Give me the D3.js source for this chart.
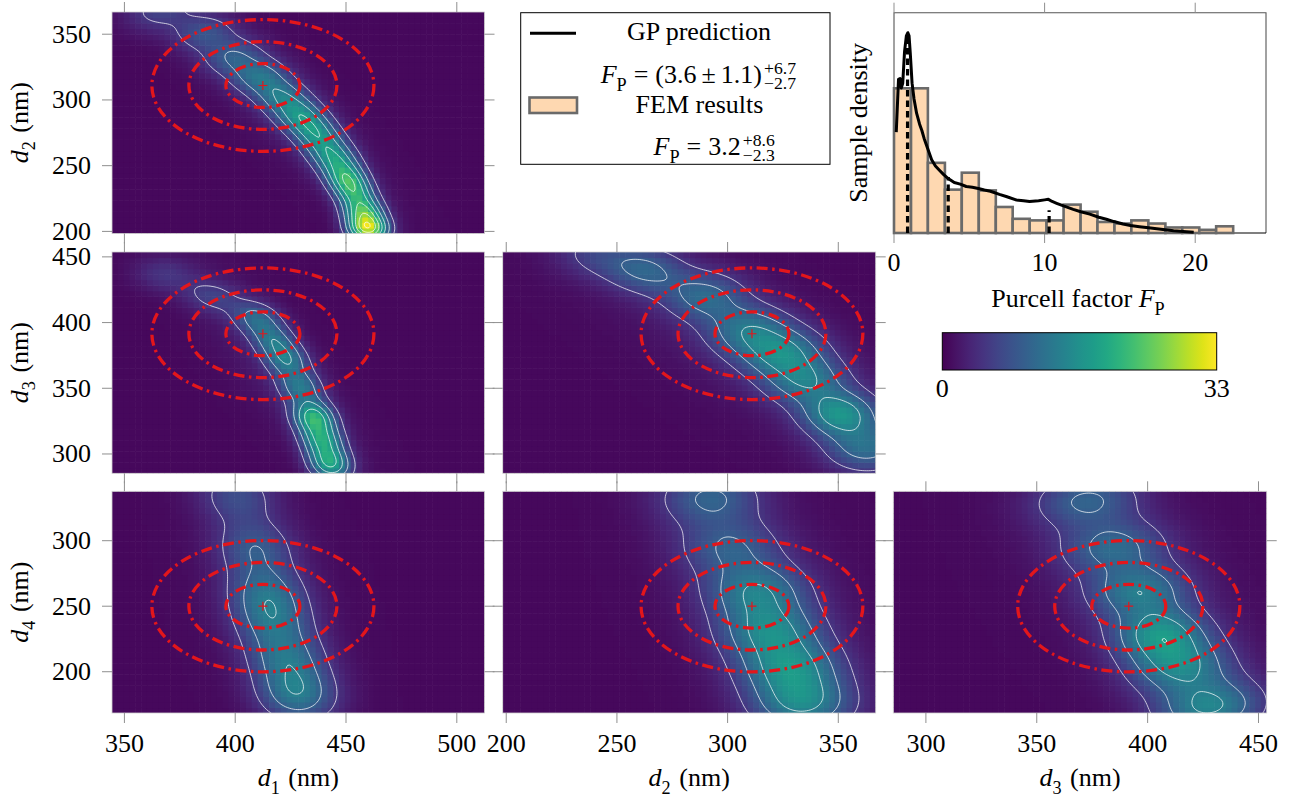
<!DOCTYPE html>
<html>
<head>
<meta charset="utf-8">
<title>Posterior corner plot</title>
<script src="https://cdn.jsdelivr.net/npm/d3@7"></script>
<style>
  html, body { margin: 0; padding: 0; background: #fff; }
  svg, svg text {
    font-family: "Liberation Serif", "DejaVu Serif", "Noto Serif", "Times New Roman", Times,
                 Tinos, FreeSerif, "Nimbus Roman", "Nimbus Roman No9 L", serif;
  }
</style>
</head>
<body>
<svg id="fig" width="1295" height="798"></svg>
<script>
// ---------------- data ----------------
const paramLabels  = ["1", "2", "3", "4"];          // subscripts of d_i
const paramDomains = [[344.4, 512.5], [198.4, 366.9], [285.3, 453.7], [168.5, 337.7]];
const paramTicks   = [[350, 400, 450, 500], [200, 250, 300, 350], [300, 350, 400, 450], [200, 250, 300]];
const priorMean    = [412.5, 311, 391.5, 250];
const priorSigma   = [16.7, 16.7, 16.7, 16.7];
const sigmaMultiples = [1, 2, 3];

const colorbarTicks = [0, 33];
const contourLevels = [4.5, 9, 13.5, 18, 22.5, 27, 31.5];
const densityFloor = 0.7;

// Sample-density components per pair of parameters:
// [centre x, centre y, peak, sd along ridge, sd across ridge, ridge direction (deg)]
const ridgeD1D2 = [
  [425, 290, 1.7, 60, 14, -62],
  [366, 368, 5.5, 10, 12, -45],
  [386, 351, 6.7, 9, 10, -52],
  [399, 333, 7.4, 9, 10, -52],
  [411, 318, 9.4, 9, 9, -56],
  [421, 303, 9.4, 9, 8, -60],
  [429, 289, 11.4, 9, 7.5, -63],
  [436, 276, 11.4, 9, 7, -65],
  [442, 262, 10, 9, 7, -68],
  [447, 250, 11.4, 9, 6.5, -72],
  [451, 238, 14.5, 8, 6, -74],
  [455, 226, 13.2, 8, 6, -75],
  [458, 214, 16.2, 7, 6, -77],
  [460, 202, 27, 7, 6, -80]
];
const ridgeD1D3 = [
  [418, 365, 1.5, 60, 14, -66],
  [368, 437, 4, 10, 9, -30],
  [390, 420, 5, 10, 8, -40],
  [409.8, 403.3, 9.2, 9, 7, -62],
  [417.3, 386.8, 9.2, 9, 6.5, -68],
  [423.3, 371.5, 10.6, 9, 6.5, -72],
  [429.4, 351.1, 10.6, 9, 6.5, -74],
  [435.4, 328.2, 18.5, 9, 6.3, -76],
  [439.2, 310.4, 15, 9, 6.3, -78],
  [442.9, 292.6, 17, 9, 6.3, -78]
];
const ridgeD2D3 = [
  [312, 378, 1.5, 90, 26, -50],
  [240, 452, 4.6, 13, 12, -30],
  [263, 440, 8.4, 13, 12, -40],
  [290, 420, 9.1, 13, 13, -44],
  [310, 394, 10.6, 13, 13.5, -50],
  [325, 376.6, 11.4, 12, 13.5, -55],
  [335.5, 356, 10.6, 12, 13, -58],
  [350.6, 331, 14.3, 12, 12, -58],
  [362.7, 305, 9.9, 13, 13, -58]
];
const ridgeD1D4 = [
  [416, 255, 0.5, 90, 25, -80],
  [401, 334, 6.5, 15, 12, -80],
  [409, 295, 7.7, 15, 12, -81],
  [414, 262, 8.7, 15, 12, -80],
  [417, 239, 8.7, 15, 12, -78],
  [423, 211, 9.4, 15, 12, -78],
  [428, 183, 11.6, 15, 12, -80]
];
const ridgeD2D4 = [
  [315, 255, 1.1, 90, 30, -76],
  [292, 333, 8.8, 15, 16, -72],
  [300.9, 295.3, 7.8, 15, 16, -74],
  [313, 262, 11.3, 15, 16, -76],
  [319, 231.7, 12, 15, 16, -76],
  [328, 203.7, 12.8, 15, 16, -75],
  [334, 175.7, 12.8, 15, 16, -75]
];
const ridgeD3D4 = [
  [398, 255, 1.1, 90, 32, -68],
  [372.5, 331, 8.8, 14, 17, -68],
  [384.5, 295.3, 9.2, 14, 17, -70],
  [396, 262, 11.3, 14, 16, -70],
  [405.6, 229, 14.1, 14, 15, -70],
  [414.6, 203.7, 12, 14, 16, -68],
  [428, 173, 13.1, 14, 17, -65]
];

// Purcell factor: FEM histogram and GP prediction
const femBinEdges = [0, 1.13, 2.25, 3.38, 4.5, 5.63, 6.76, 7.88, 9.01, 10.13, 11.26,
                     12.39, 13.51, 14.64, 15.76, 16.89, 18.02, 19.14, 20.27, 21.39, 22.52];
const femDensity  = [0.1835, 0.1835, 0.089, 0.055, 0.0765, 0.054, 0.033, 0.018, 0.016, 0.016,
                     0.036, 0.027, 0.014, 0.012, 0.016, 0.012, 0.007, 0.007, 0.004, 0.0085];
const gpFactor  = [0.15, 0.3, 0.4, 0.48, 0.58, 0.7, 0.82, 0.92, 1.0, 1.08, 1.2, 1.33, 1.5, 1.7, 1.85,
                   2.0, 2.2, 2.5, 2.75, 3.0, 3.3, 3.6, 4.0, 4.4, 4.8, 5.2, 5.6, 6.0, 6.4, 7.0, 7.5,
                   8.1, 8.6, 9.0, 9.6, 10.0, 10.25, 10.5, 10.8, 11.3, 11.9, 12.4, 13.0, 13.6, 14.1,
                   14.6, 15.2, 15.7, 16.3, 16.9, 17.45, 18.0, 18.56, 19.2, 19.9];
const gpDensity = [0.128, 0.195, 0.196, 0.184, 0.19, 0.23, 0.25, 0.254, 0.25, 0.228, 0.19, 0.17, 0.152,
                   0.138, 0.13, 0.12, 0.109, 0.093, 0.085, 0.08, 0.074, 0.069, 0.064, 0.062, 0.059,
                   0.058, 0.0565, 0.0545, 0.053, 0.049, 0.046, 0.042, 0.041, 0.040, 0.041, 0.042,
                   0.0427, 0.040, 0.0377, 0.034, 0.030, 0.027, 0.024, 0.020, 0.0174, 0.0145, 0.0114,
                   0.0095, 0.008, 0.0067, 0.0055, 0.0042, 0.003, 0.002, 0.001];
const gpQuantiles = [0.9, 3.6, 10.3];
const gpQuantileHeights = [0.252, 0.071, 0.029];
const histTicks = [0, 10, 20];
const histDomainX = [0, 24.7];
const histDomainY = [0, 0.2794];

// ---------------- layout ----------------
const FS = 26;
const colX = [[112, 484.5], [502.7, 875.7], [893.3, 1266.7]];
const rowY = [[12, 233.5], [252, 473.3], [491.3, 713]];
const tickLen = 10;
const tickColor = "#8f8f8f";
const ellipseColor = "#e3161b";
const barFill = "#fed8b1";
const barStroke = "#6a6a6a";

const svg = d3.select("#fig");
const defs = svg.append("defs");
const viridis = d3.scaleSequential(d3.interpolateViridis)
  .domain([colorbarTicks[0], colorbarTicks[1]]).clamp(true);

// text with italic / sub- / superscript pieces
function richText(parent, parts, size) {
  const t = parent.append("text").attr("font-size", size);
  let shift = 0;
  parts.forEach(p => {
    const ts = t.append("tspan").text(p.t);
    if (p.it) ts.attr("font-style", "italic");
    let target = 0;
    if (p.sub) target = 0.3 * size;
    if (p.sup) target = -0.42 * size;
    if (p.sub || p.sup) ts.attr("font-size", size * 0.7);
    if (target !== shift) ts.attr("dy", target - shift);
    shift = target;
    if (p.dx) ts.attr("dx", p.dx);
  });
  return t;
}
const dLabel = i => [{ t: "d", it: true }, { t: paramLabels[i], sub: true }, { t: "(nm)", dx: 0.33 * FS }];

function makeField(comps) {
  const pre = comps.map(([cx, cy, a, L, Wd, ang]) => {
    const r = ang * Math.PI / 180;
    return { cx, cy, a, c: Math.cos(r), s: Math.sin(r), iL: 1 / (L * L), iW: 1 / (Wd * Wd) };
  });
  return (x, y) => {
    let v = 0;
    for (const p of pre) {
      const dx = x - p.cx, dy = y - p.cy;
      const u = dx * p.c + dy * p.s, w = -dx * p.s + dy * p.c;
      v += p.a * Math.exp(-0.5 * (u * u * p.iL + w * w * p.iW));
    }
    return v;
  };
}

// ---------------- pair panels ----------------
const panels = [
  { xi: 0, yi: 1, col: 0, row: 0, comps: ridgeD1D2 },
  { xi: 0, yi: 2, col: 0, row: 1, comps: ridgeD1D3 },
  { xi: 1, yi: 2, col: 1, row: 1, comps: ridgeD2D3 },
  { xi: 0, yi: 3, col: 0, row: 2, comps: ridgeD1D4 },
  { xi: 1, yi: 3, col: 1, row: 2, comps: ridgeD2D4 },
  { xi: 2, yi: 3, col: 2, row: 2, comps: ridgeD3D4 }
];

panels.forEach((p, k) => {
  const [L, R] = colX[p.col], [T, B] = rowY[p.row];
  const xs = d3.scaleLinear().domain(paramDomains[p.xi]).range([L, R]);
  const ys = d3.scaleLinear().domain(paramDomains[p.yi]).range([B, T]);
  const g = svg.append("g");
  const clipId = "clip" + k;
  defs.append("clipPath").attr("id", clipId).append("rect")
    .attr("x", L).attr("y", T).attr("width", R - L).attr("height", B - T);
  const field = makeField(p.comps);

  // heat map
  const [xa, xb] = paramDomains[p.xi], [ya, yb] = paramDomains[p.yi];
  const nx = 64, ny = 40;
  const cells = [];
  for (let j = 0; j < ny; j++) for (let i = 0; i < nx; i++) {
    const x0 = xa + i * (xb - xa) / nx, x1 = xa + (i + 1) * (xb - xa) / nx;
    const y0 = ya + j * (yb - ya) / ny, y1 = ya + (j + 1) * (yb - ya) / ny;
    cells.push({ x0, x1, y0, y1, v: densityFloor + field((x0 + x1) / 2, (y0 + y1) / 2) });
  }
  g.append("g").attr("clip-path", `url(#${clipId})`)
    .selectAll("rect").data(cells).join("rect")
    .attr("x", d => xs(d.x0)).attr("y", d => ys(d.y1))
    .attr("width", d => xs(d.x1) - xs(d.x0) + 0.6)
    .attr("height", d => ys(d.y0) - ys(d.y1) + 0.6)
    .attr("fill", d => viridis(d.v));

  // contour lines
  const nf = 200, mf = 130;
  const px = (xb - xa) * 0.02, py = (yb - ya) * 0.02;
  const fxa = xa - px, fxb = xb + px, fya = ya - py, fyb = yb + py;
  const vals = new Float64Array(nf * mf);
  for (let j = 0; j < mf; j++) for (let i = 0; i < nf; i++)
    vals[j * nf + i] = field(fxa + (i + 0.5) * (fxb - fxa) / nf, fya + (j + 0.5) * (fyb - fya) / mf);
  const contours = d3.contours().size([nf, mf]).thresholds(contourLevels)(vals);
  const proj = d3.geoTransform({
    point: function (x, y) {
      this.stream.point(xs(fxa + x * (fxb - fxa) / nf), ys(fya + y * (fyb - fya) / mf));
    }
  });
  g.append("g").attr("clip-path", `url(#${clipId})`)
    .selectAll("path").data(contours).join("path")
    .attr("d", d3.geoPath(proj))
    .attr("fill", "none").attr("stroke", "#ffffff")
    .attr("stroke-opacity", 0.72).attr("stroke-width", 1);

  // prior ellipses and mean
  const mx = priorMean[p.xi], my = priorMean[p.yi];
  sigmaMultiples.forEach(m => {
    g.append("ellipse")
      .attr("cx", xs(mx)).attr("cy", ys(my))
      .attr("rx", xs(mx + m * priorSigma[p.xi]) - xs(mx))
      .attr("ry", ys(my) - ys(my + m * priorSigma[p.yi]))
      .attr("fill", "none").attr("stroke", ellipseColor)
      .attr("stroke-width", 3.3).attr("stroke-dasharray", "11 4.5 2.5 4.5");
  });
  const cxp = xs(mx), cyp = ys(my);
  g.append("path").attr("d", `M${cxp - 4.5},${cyp}H${cxp + 4.5}M${cxp},${cyp - 4.5}V${cyp + 4.5}`)
    .attr("stroke", ellipseColor).attr("stroke-width", 1.2);

  // frame and ticks
  g.append("rect").attr("x", L).attr("y", T).attr("width", R - L).attr("height", B - T)
    .attr("fill", "none").attr("stroke", "#cfcfcf").attr("stroke-width", 0.8);
  const tk = g.append("g").attr("stroke", tickColor).attr("stroke-width", 1);
  paramTicks[p.xi].forEach(v => {
    const x = xs(v);
    tk.append("line").attr("x1", x).attr("x2", x).attr("y1", T).attr("y2", T - tickLen);
    tk.append("line").attr("x1", x).attr("x2", x).attr("y1", B).attr("y2", B + tickLen);
  });
  paramTicks[p.yi].forEach(v => {
    const y = ys(v);
    tk.append("line").attr("y1", y).attr("y2", y).attr("x1", L).attr("x2", L - tickLen);
    tk.append("line").attr("y1", y).attr("y2", y).attr("x1", R).attr("x2", R + tickLen);
  });
  if (p.col === 0) {
    paramTicks[p.yi].forEach(v => {
      svg.append("text").attr("x", 91).attr("y", ys(v) + 8.5)
        .attr("text-anchor", "end").attr("font-size", FS).text(v);
    });
  }
  if (p.row === 2) {
    paramTicks[p.xi].forEach(v => {
      svg.append("text").attr("x", xs(v)).attr("y", 752)
        .attr("text-anchor", "middle").attr("font-size", FS).text(v);
    });
  }
});

// axis titles
[1, 2, 3].forEach((pi, r) => {
  const gy = svg.append("g")
    .attr("transform", `translate(27.5,${(rowY[r][0] + rowY[r][1]) / 2}) rotate(-90)`);
  richText(gy, dLabel(pi), FS).attr("text-anchor", "middle");
});
[0, 1, 2].forEach((pi, c) => {
  const gx = svg.append("g")
    .attr("transform", `translate(${(colX[c][0] + colX[c][1]) / 2},786)`);
  richText(gx, dLabel(pi), FS).attr("text-anchor", "middle");
});

// ---------------- histogram ----------------
const hx = d3.scaleLinear().domain(histDomainX).range([894, 1266]);
const hy = d3.scaleLinear().domain(histDomainY).range([233, 12.7]);
const hg = svg.append("g");
hg.append("path")
  .attr("d", `M${hx.range()[0]},${hy.range()[0]}V${hy.range()[1]}H${hx.range()[1]}V${hy.range()[0]}`)
  .attr("fill", "none").attr("stroke", "#555").attr("stroke-width", 1.1);
hg.append("line").attr("x1", hx.range()[0]).attr("x2", hx.range()[1])
  .attr("y1", hy.range()[0]).attr("y2", hy.range()[0])
  .attr("stroke", "#000").attr("stroke-width", 1.1);
histTicks.forEach(v => {
  const x = hx(v);
  hg.append("line").attr("x1", x).attr("x2", x).attr("y1", hy.range()[1]).attr("y2", hy.range()[1] - tickLen)
    .attr("stroke", tickColor);
  hg.append("line").attr("x1", x).attr("x2", x).attr("y1", hy.range()[0]).attr("y2", hy.range()[0] + tickLen)
    .attr("stroke", tickColor);
  hg.append("text").attr("x", x).attr("y", 271).attr("text-anchor", "middle")
    .attr("font-size", FS).text(v);
});
const bars = femDensity.map((d, i) => ({ x0: femBinEdges[i], x1: femBinEdges[i + 1], d }));
hg.append("g").selectAll("rect").data(bars).join("rect")
  .attr("x", b => hx(b.x0)).attr("width", b => hx(b.x1) - hx(b.x0))
  .attr("y", b => hy(b.d)).attr("height", b => hy(0) - hy(b.d))
  .attr("fill", barFill).attr("stroke", barStroke).attr("stroke-width", 2.6);
gpQuantiles.forEach((q, i) => {
  hg.append("line").attr("x1", hx(q)).attr("x2", hx(q))
    .attr("y1", hy(0)).attr("y2", hy(gpQuantileHeights[i]))
    .attr("stroke", "#000").attr("stroke-width", 3.2).attr("stroke-dasharray", "6.5 4");
});
hg.append("path")
  .datum(gpFactor.map((f, i) => [f, gpDensity[i]]))
  .attr("d", d3.line().x(d => hx(d[0])).y(d => hy(d[1])))
  .attr("fill", "none").attr("stroke", "#000").attr("stroke-width", 3)
  .attr("stroke-linejoin", "round");

const sd = svg.append("g").attr("transform", `translate(867,${(hy.range()[0] + hy.range()[1]) / 2}) rotate(-90)`);
sd.append("text").attr("text-anchor", "middle").attr("font-size", FS).text("Sample density");
const pfx = svg.append("g").attr("transform", `translate(${(hx.range()[0] + hx.range()[1]) / 2 - 2},307)`);
richText(pfx, [{ t: "Purcell factor " }, { t: "F", it: true }, { t: "P", sub: true }], FS)
  .attr("text-anchor", "middle");

// ---------------- legend ----------------
const lg = svg.append("g");
lg.append("rect").attr("x", 520.7).attr("y", 12.7).attr("width", 309.3).attr("height", 151.6)
  .attr("fill", "#fff").attr("stroke", "#000").attr("stroke-width", 1);
lg.append("line").attr("x1", 530).attr("x2", 576).attr("y1", 33.3).attr("y2", 33.3)
  .attr("stroke", "#000").attr("stroke-width", 3);
lg.append("rect").attr("x", 529.5).attr("y", 97.5).attr("width", 47.5).attr("height", 15.5)
  .attr("fill", barFill).attr("stroke", barStroke).attr("stroke-width", 2.6);
lg.append("text").attr("x", 699).attr("y", 40).attr("text-anchor", "middle")
  .attr("font-size", FS).text("GP prediction");
lg.append("text").attr("x", 699.5).attr("y", 113).attr("text-anchor", "middle")
  .attr("font-size", FS).text("FEM results");

function scriptedFormula(parent, cx, baseline, mainParts, supText, subText) {
  const t = richText(parent, mainParts, FS).attr("x", 0).attr("y", baseline);
  const sup = parent.append("text").attr("font-size", FS * 0.68).attr("y", baseline - 9.5).text(supText);
  const sub = parent.append("text").attr("font-size", FS * 0.68).attr("y", baseline + 6).text(subText);
  const bb = t.node().getBBox();
  const wMain = bb.x + bb.width;
  const wScr = Math.max(sup.node().getBBox().width, sub.node().getBBox().width);
  const x0 = cx - (wMain + 2 + wScr) / 2;
  t.attr("x", x0);
  sup.attr("x", x0 + wMain + 2);
  sub.attr("x", x0 + wMain + 2);
}
scriptedFormula(lg, 698.4, 83.3,
  [{ t: "F", it: true }, { t: "P", sub: true }, { t: "=", dx: 7 }, { t: "(3.6", dx: 7 },
   { t: "\u00b1", dx: 5 }, { t: "1.1)", dx: 5 }],
  "+6.7", "\u22122.7");
scriptedFormula(lg, 714.2, 155,
  [{ t: "F", it: true }, { t: "P", sub: true }, { t: "=", dx: 7 }, { t: "3.2", dx: 7 }],
  "+8.6", "\u22122.3");

// ---------------- colour bar ----------------
const cbx = d3.scaleLinear().domain(colorbarTicks).range([942.3, 1216.7]);
const grad = defs.append("linearGradient").attr("id", "viridisGrad");
d3.range(0, 1.0001, 0.05).forEach(s => {
  grad.append("stop").attr("offset", s).attr("stop-color", d3.interpolateViridis(s));
});
svg.append("rect").attr("x", cbx.range()[0]).attr("y", 332.7)
  .attr("width", cbx.range()[1] - cbx.range()[0]).attr("height", 37.3)
  .attr("fill", "url(#viridisGrad)").attr("stroke", "#000").attr("stroke-width", 1);
colorbarTicks.forEach(v => {
  svg.append("text").attr("x", cbx(v)).attr("y", 397).attr("text-anchor", "middle")
    .attr("font-size", FS).text(v);
});
</script>
</body>
</html>
